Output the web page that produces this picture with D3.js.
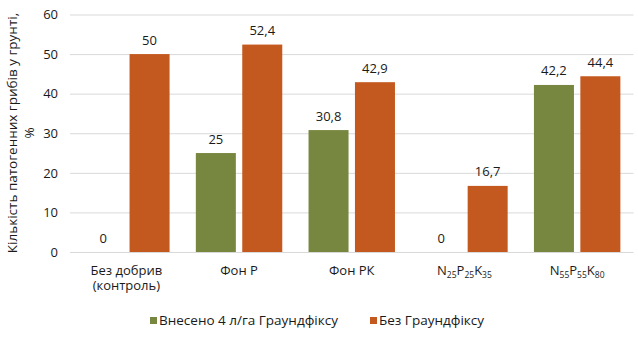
<!DOCTYPE html>
<html><head><meta charset="utf-8">
<script src="https://cdn.jsdelivr.net/npm/d3@7"></script>
<style>body{margin:0;background:#fff}svg text{font-family:"Open Sans",sans-serif;fill:#1a1a1a}</style>
</head><body>
<svg id="c" width="638" height="344"></svg>
<script>
const categories = ["Без добрив (контроль)", "Фон Р", "Фон РК", "N25P25K35", "N55P55K80"];
const seriesNames = ["Внесено 4 л/га Граундфіксу", "Без Граундфіксу"];
const withGround = [0, 25, 30.8, 0, 42.2];
const withoutGround = [50, 52.4, 42.9, 16.7, 44.4];
const yTicks = [0, 10, 20, 30, 40, 50, 60];
const colors = ["#778740", "#C3591E"];

const svg = d3.select("#c");
const pL = 70, pR = 633.5, pT = 14.5, pB = 252;
const x0 = d3.scaleBand().domain(categories).range([pL, pR]);
const x1 = d3.scaleBand().domain(seriesNames).range([0, x0.bandwidth()]).paddingInner(0.138).paddingOuter(0.283);
const y = d3.scaleLinear().domain([0, 60]).range([pB, pT]);

// gridlines
const yAxis = d3.axisLeft(y).tickValues(yTicks).tickSize(-(pR - pL)).tickPadding(12);
const g = svg.append("g").attr("transform", `translate(${pL},0)`).call(yAxis);
g.select(".domain").remove();
g.selectAll(".tick line").attr("stroke", "#d9d9d9").attr("stroke-width", 1);
g.selectAll(".tick text").attr("font-size", 13).attr("fill", "#1a1a1a").attr("font-family", "Open Sans");

// bars
const values = [withGround, withoutGround];
values.forEach((vals, si) => {
  svg.append("g").selectAll("rect").data(vals).join("rect")
    .attr("x", (d, i) => x0(categories[i]) + x1(seriesNames[si]))
    .attr("width", x1.bandwidth())
    .attr("y", d => y(d))
    .attr("height", d => y(0) - y(d))
    .attr("fill", colors[si]);
  svg.append("g").selectAll("text").data(vals).join("text")
    .attr("x", (d, i) => x0(categories[i]) + x1(seriesNames[si]) + x1.bandwidth() / 2)
    .attr("y", d => y(d) - 9.5)
    .attr("text-anchor", "middle")
    .attr("font-size", 13)
    .text(d => String(d).replace(".", ","));
});

// category labels
const lab = svg.append("g");
categories.forEach((c, i) => {
  const cx = x0(c) + x0.bandwidth() / 2;
  const t = lab.append("text").attr("x", cx).attr("y", 275).attr("text-anchor", "middle").attr("font-size", 13);
  const m = c.match(/^N(\d+)P(\d+)K(\d+)$/);
  if (m) {
    [["N", m[1]], ["P", m[2]], ["K", m[3]]].forEach(([L, n], k) => {
      t.append("tspan").attr("dy", k === 0 ? 0 : -3).text(L);
      t.append("tspan").attr("font-size", 8.5).attr("dy", 3).text(n);
    });
  } else if (c.includes("(")) {
    const parts = c.split(" (");
    t.append("tspan").attr("x", cx).text(parts[0]);
    t.append("tspan").attr("x", cx).attr("dy", 15).text("(" + parts[1]);
  } else {
    t.text(c);
  }
});

// y title
const yt = svg.append("text").attr("transform", `translate(17,133) rotate(-90)`).attr("text-anchor", "middle").attr("font-size", 13.5);
yt.append("tspan").attr("x", 0).attr("y", 0).text("Кількість патогенних грибів у грунті,");
yt.append("tspan").attr("x", 0).attr("dy", 17).text("%");

// legend
const legX = [150, 370];
seriesNames.forEach((s, i) => {
  svg.append("rect").attr("x", legX[i]).attr("y", 317).attr("width", 7).attr("height", 7).attr("fill", colors[i]);
  svg.append("text").attr("x", legX[i] + 9).attr("y", 325).attr("font-size", 13.5).text(s);
});
</script>
</body></html>
